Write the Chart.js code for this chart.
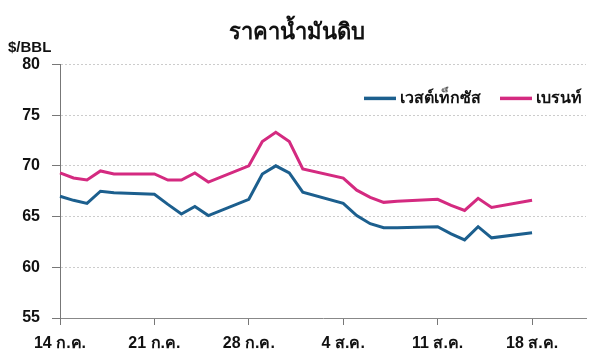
<!DOCTYPE html>
<html>
<head>
<meta charset="utf-8">
<script src="https://cdn.jsdelivr.net/npm/chart.js@4"></script>
<style>
  html, body { margin: 0; padding: 0; background: #fff; }
  #wrap { width: 600px; height: 355px; }
</style>
</head>
<body>
<div id="wrap"><canvas id="chart"></canvas></div>
<script>
// calendar days 14 Jul - 22 Aug, weekends left empty
let days = ['14/7','15/7','16/7','17/7','18/7','19/7','20/7',
            '21/7','22/7','23/7','24/7','25/7','26/7','27/7',
            '28/7','29/7','30/7','31/7','1/8','2/8','3/8',
            '4/8','5/8','6/8','7/8','8/8','9/8','10/8',
            '11/8','12/8','13/8','14/8','15/8','16/8','17/8',
            '18/8','19/8','20/8','21/8','22/8']
let tickLabels = ['14 ก.ค.', '21 ก.ค.', '28 ก.ค.', '4 ส.ค.', '11 ส.ค.', '18 ส.ค.']

let wti = [67.0, 66.6, 66.3, 67.5, 67.35, null, null,
           67.2, 66.2, 65.25, 66.0, 65.1, null, null,
           66.7, 69.2, 70.0, 69.3, 67.4, null, null,
           66.3, 65.1, 64.3, 63.9, 63.9, null, null,
           64.0, 63.3, 62.7, 64.0, 62.9, null, null,
           63.4, null, null, null, null]
let brent = [69.3, 68.8, 68.6, 69.5, 69.2, null, null,
             69.2, 68.6, 68.6, 69.3, 68.4, null, null,
             70.0, 72.4, 73.3, 72.4, 69.7, null, null,
             68.8, 67.6, 66.9, 66.4, 66.5, null, null,
             66.7, 66.1, 65.6, 66.8, 65.9, null, null,
             66.6, null, null, null, null]

const fam = "'Liberation Sans', Arial, sans-serif"

// unit label + legend drawn inside the plot, top right
const extras = {
  id: 'extras',
  afterDraw(chart) {
    const ctx = chart.ctx
    const a = chart.chartArea
    ctx.save()
    ctx.fillStyle = '#111'
    ctx.font = 'bold 15px ' + fam
    ctx.textBaseline = 'middle'
    ctx.textAlign = 'left'
    ctx.fillText('$/BBL', 8, a.top - 17)

    ctx.font = 'bold 16px ' + fam
    let x = a.right - 4
    const y = a.top + 34
    const ds = chart.data.datasets
    for (let i = ds.length - 1; i >= 0; i--) {
      const w = ctx.measureText(ds[i].label).width
      x -= w
      ctx.fillStyle = '#111'
      ctx.fillText(ds[i].label, x, y)
      ctx.strokeStyle = ds[i].borderColor
      ctx.lineWidth = 3.5
      ctx.beginPath()
      ctx.moveTo(x - 36, y)
      ctx.lineTo(x - 4, y)
      ctx.stroke()
      x -= 36 + 19
    }
    ctx.restore()
  }
}

const chart = new Chart(document.getElementById('chart'), {
  type: 'line',
  plugins: [extras],
  data: {
    labels: days,
    datasets: [{
      label: 'เวสต์เท็กซัส',
      data: wti,
      borderColor: '#1c5f8e',
      backgroundColor: '#1c5f8e',
      borderWidth: 3,
      pointRadius: 0,
      tension: 0,
      spanGaps: true
    }, {
      label: 'เบรนท์',
      data: brent,
      borderColor: '#d42a80',
      backgroundColor: '#d42a80',
      borderWidth: 3,
      pointRadius: 0,
      tension: 0,
      spanGaps: true
    }]
  },
  options: {
    responsive: true,
    maintainAspectRatio: false,
    animation: false,
    layout: { padding: { left: 8, right: 14, top: 6, bottom: 0 } },
    scales: {
      x: {
        offset: false,
        afterFit: (s) => { s.height = 37 },
        grid: {
          drawOnChartArea: false,
          tickLength: 7,
          color: (c) => (c.index % 7 === 0 && c.index < 36) ? '#777' : 'rgba(0,0,0,0)'
        },
        border: { color: '#888', width: 1 },
        ticks: {
          autoSkip: false,
          maxRotation: 0,
          padding: 9,
          color: '#111',
          font: { family: fam, size: 16, weight: 'bold' },
          callback: (v, i) => (i % 7 === 0 && i < 36) ? tickLabels[i / 7] : ''
        }
      },
      y: {
        min: 55,
        max: 80,
        afterFit: (s) => { s.width = 52 },
        grid: {
          color: '#cccccc',
          tickLength: 8,
          tickColor: '#777',
          tickBorderDash: [0, 0]
        },
        border: { color: '#777', width: 1, dash: [2, 2] },
        ticks: {
          stepSize: 5,
          padding: 12,
          color: '#111',
          font: { family: fam, size: 16, weight: 'bold' }
        }
      }
    },
    plugins: {
      title: {
        display: true,
        text: 'ราคาน้ำมันดิบ',
        color: '#111',
        font: { family: fam, size: 22, weight: 'bold' },
        padding: { top: 14, bottom: 18 }
      },
      legend: { display: false },
      tooltip: { enabled: false }
    }
  }
})
</script>
</body>
</html>
